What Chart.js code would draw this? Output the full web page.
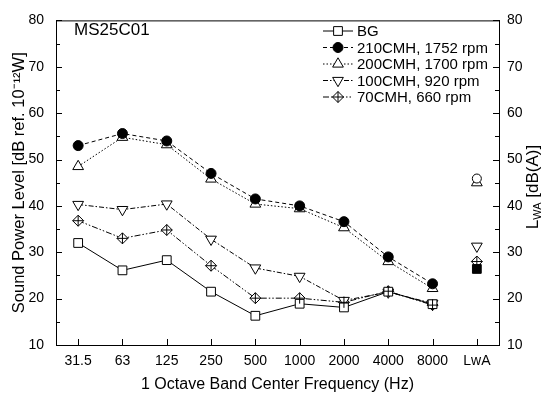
<!DOCTYPE html>
<html lang="en">
<head>
  <meta charset="UTF-8">
  <title>MS25C01 Sound Power Level</title>
  <style>
    html, body { margin: 0; padding: 0; background: #fff; }
    #wrap { width: 548px; height: 396px; }
  </style>
  <script src="https://cdn.jsdelivr.net/npm/chart.js"></script>
</head>
<body>
  <div id="wrap"><canvas id="chart" width="548" height="396"></canvas></div>

  <script>
    // octave band categories (last one is the A-weighted total)
    const bands = ['31.5', '63', '125', '250', '500', '1000', '2000', '4000', '8000', 'LwA'];

    // band levels, dB ref 1e-12 W
    const bgLevels     = [32.0, 26.1, 28.3, 21.5, 16.3, 18.9, 18.1, 21.5, 18.8];
    const cmh210Levels = [53.0, 55.6, 54.0, 47.0, 41.5, 40.0, 36.6, 29.0, 23.2];
    const cmh200Levels = [48.5, 54.8, 53.2, 45.8, 40.4, 39.4, 35.3, 28.0, 22.2];
    const cmh100Levels = [40.3, 39.2, 40.4, 32.8, 26.6, 24.8, 19.6, 21.4, 19.0];
    const cmh70Levels  = [36.8, 33.0, 34.8, 27.1, 20.1, 20.1, 19.2, 21.6, 18.6];

    // overall LwA, dB(A): BG, 210, 200, 100, 70
    const lwaValues = [26.4, 45.9, 45.0, 31.3, 28.0];

    const seriesLabels = ['BG', '210CMH, 1752 rpm', '200CMH, 1700 rpm', '100CMH, 920 rpm', '70CMH, 660 rpm'];
    const yTicks = [10, 20, 30, 40, 50, 60, 70, 80];

    const styles = [
      { dash: [],               pointStyle: 'rect',     radius: 6.2, fill: '#fff', rot: 0 },
      { dash: [4, 3],           pointStyle: 'circle',   radius: 5,   fill: '#000', rot: 0 },
      { dash: [1.5, 2],         pointStyle: 'triangle', radius: 6.2, fill: '#fff', rot: 0 },
      { dash: [5, 2, 1.5, 2],   pointStyle: 'triangle', radius: 6.2, fill: '#fff', rot: 180 },
      { dash: [6, 2, 1.5, 2, 1.5, 2], pointStyle: 'rectRot', radius: 5.5, fill: '#fff', rot: 0, cross: true }
    ];
    const levelSets = [bgLevels, cmh210Levels, cmh200Levels, cmh100Levels, cmh70Levels];
    const lwaFill = ['#000', '#fff', '#fff', '#fff', '#fff'];

    const datasets = [];
    function markerSet(label, data, axis, s, radius, fill, withLine) {
      datasets.push({
        label: label,
        data: data,
        yAxisID: axis,
        showLine: withLine,
        borderColor: '#000',
        borderWidth: 1,
        borderDash: s.dash,
        pointStyle: s.pointStyle,
        pointRadius: radius,
        pointRotation: s.rot,
        pointBackgroundColor: fill,
        pointBorderColor: '#000',
        pointBorderWidth: 1,
        spanGaps: false,
        tension: 0
      });
      if (s.cross) {
        // the "+" inside the diamond, drawn on top
        datasets.push({
          label: label + ' +',
          data: data,
          yAxisID: axis,
          showLine: false,
          order: -1,
          pointStyle: 'cross',
          pointRadius: radius,
          pointBorderColor: '#000',
          pointBorderWidth: 1
        });
      }
    }
    levelSets.forEach((vals, i) => {
      markerSet(seriesLabels[i], vals.concat([null]), 'y', styles[i], styles[i].radius, styles[i].fill, true);
    });
    // LwA markers on the right axis
    lwaValues.forEach((v, i) => {
      const d = bands.map(() => null);
      d[bands.length - 1] = v;
      markerSet('LwA ' + seriesLabels[i], d, 'y2', styles[i], i === 1 ? 4.5 : styles[i].radius, lwaFill[i], false);
    });

    const FONT = 'Liberation Sans, Arial, Helvetica, sans-serif';

    // frame, inward ticks, legend, title text, right axis title
    const decor = {
      id: 'decor',
      afterDraw(chart) {
        const ctx = chart.ctx;
        const a = chart.chartArea;
        const y = chart.scales.y, x = chart.scales.x;
        ctx.save();
        ctx.strokeStyle = '#000';
        ctx.lineWidth = 1;
        ctx.setLineDash([]);
        ctx.beginPath();
        ctx.moveTo(a.left, a.top + 0.5); ctx.lineTo(a.right, a.top + 0.5);
        ctx.stroke();

        ctx.beginPath();
        for (let v = 10; v <= 80; v += 5) {
          const py = Math.round(y.getPixelForValue(v)) + 0.5;
          const len = v % 10 === 0 ? 6 : 4;
          ctx.moveTo(a.left, py); ctx.lineTo(a.left + len, py);
          ctx.moveTo(a.right, py); ctx.lineTo(a.right - len, py);
        }
        bands.forEach((b, i) => {
          const px = Math.round(x.getPixelForValue(i)) + 0.5;
          ctx.moveTo(px, a.bottom); ctx.lineTo(px, a.bottom - 6);
        });
        ctx.stroke();

        // plot label
        ctx.fillStyle = '#000';
        ctx.font = '17px ' + FONT;
        ctx.textAlign = 'left';
        ctx.textBaseline = 'middle';
        ctx.fillText('MS25C01', 74, 30);

        // legend
        ctx.font = '15px ' + FONT;
        seriesLabels.forEach((lab, i) => {
          const s = styles[i];
          const ly = 31 + i * 16.5;
          ctx.setLineDash(s.dash);
          ctx.beginPath();
          ctx.moveTo(323, ly); ctx.lineTo(353, ly);
          ctx.stroke();
          ctx.setLineDash([]);
          ctx.fillStyle = s.fill;
          ctx.strokeStyle = '#000';
          Chart.helpers.drawPoint(ctx, {
            pointStyle: s.pointStyle, radius: s.radius, rotation: s.rot, borderWidth: 1
          }, 338, ly);
          if (s.cross) {
            Chart.helpers.drawPoint(ctx, { pointStyle: 'cross', radius: s.radius, rotation: 0, borderWidth: 1 }, 338, ly);
          }
          ctx.fillStyle = '#000';
          ctx.fillText(lab, 357, ly + 1);
        });

        // right axis title: L_WA [dB(A)]
        ctx.translate(533, 187);
        ctx.rotate(-Math.PI / 2);
        const big = '17px ' + FONT, small = '11px ' + FONT;
        ctx.font = big; const wL = ctx.measureText('L').width;
        const wT = ctx.measureText(' [dB(A)]').width;
        ctx.font = small; const wS = ctx.measureText('WA').width;
        let cx = -(wL + wS + wT) / 2;
        ctx.textBaseline = 'middle';
        ctx.font = big; ctx.fillText('L', cx, 0); cx += wL;
        ctx.font = small; ctx.fillText('WA', cx, 5); cx += wS;
        ctx.font = big; ctx.fillText(' [dB(A)]', cx, 0);
        ctx.restore();
      }
    };

    const yScaleBase = {
      min: 10,
      max: 80,
      border: { display: true, color: '#000', width: 1 },
      grid: { display: true, drawOnChartArea: false, drawTicks: false },
      afterBuildTicks: (s) => { s.ticks = yTicks.map(v => ({ value: v })); }
    };

    new Chart(document.getElementById('chart'), {
      type: 'line',
      data: { labels: bands, datasets: datasets },
      plugins: [decor],
      options: {
        responsive: false,
        animation: false,
        layout: { padding: { top: 14, left: 0, right: 0, bottom: 0 } },
        plugins: { legend: { display: false }, tooltip: { enabled: false } },
        scales: {
          x: {
            type: 'category',
            offset: true,
            border: { display: true, color: '#000', width: 1 },
            grid: { display: true, drawOnChartArea: false, drawTicks: false },
            ticks: { color: '#000', font: { family: FONT, size: 14 }, padding: 8, maxRotation: 0, autoSkip: false },
            title: { display: true, text: '1 Octave Band Center Frequency (Hz)', color: '#000',
                     font: { family: FONT, size: 16 }, padding: { top: 0, bottom: 2 } },
            afterFit: (s) => { s.height = 51; }
          },
          y: Object.assign({}, yScaleBase, {
            position: 'left',
            ticks: { color: '#000', font: { family: FONT, size: 14 }, padding: 12 },
            title: { display: true, text: 'Sound Power Level [dB ref. 10\u207B\u00B9\u00B2W]', color: '#000',
                     font: { family: FONT, size: 16.5 }, padding: { top: 10, bottom: 0 } },
            afterFit: (s) => { s.width = 56; }
          }),
          y2: Object.assign({}, yScaleBase, {
            position: 'right',
            ticks: { color: '#000', font: { family: FONT, size: 14 }, padding: 8 },
            afterFit: (s) => { s.width = 49; }
          })
        }
      }
    });
  </script>
</body>
</html>
